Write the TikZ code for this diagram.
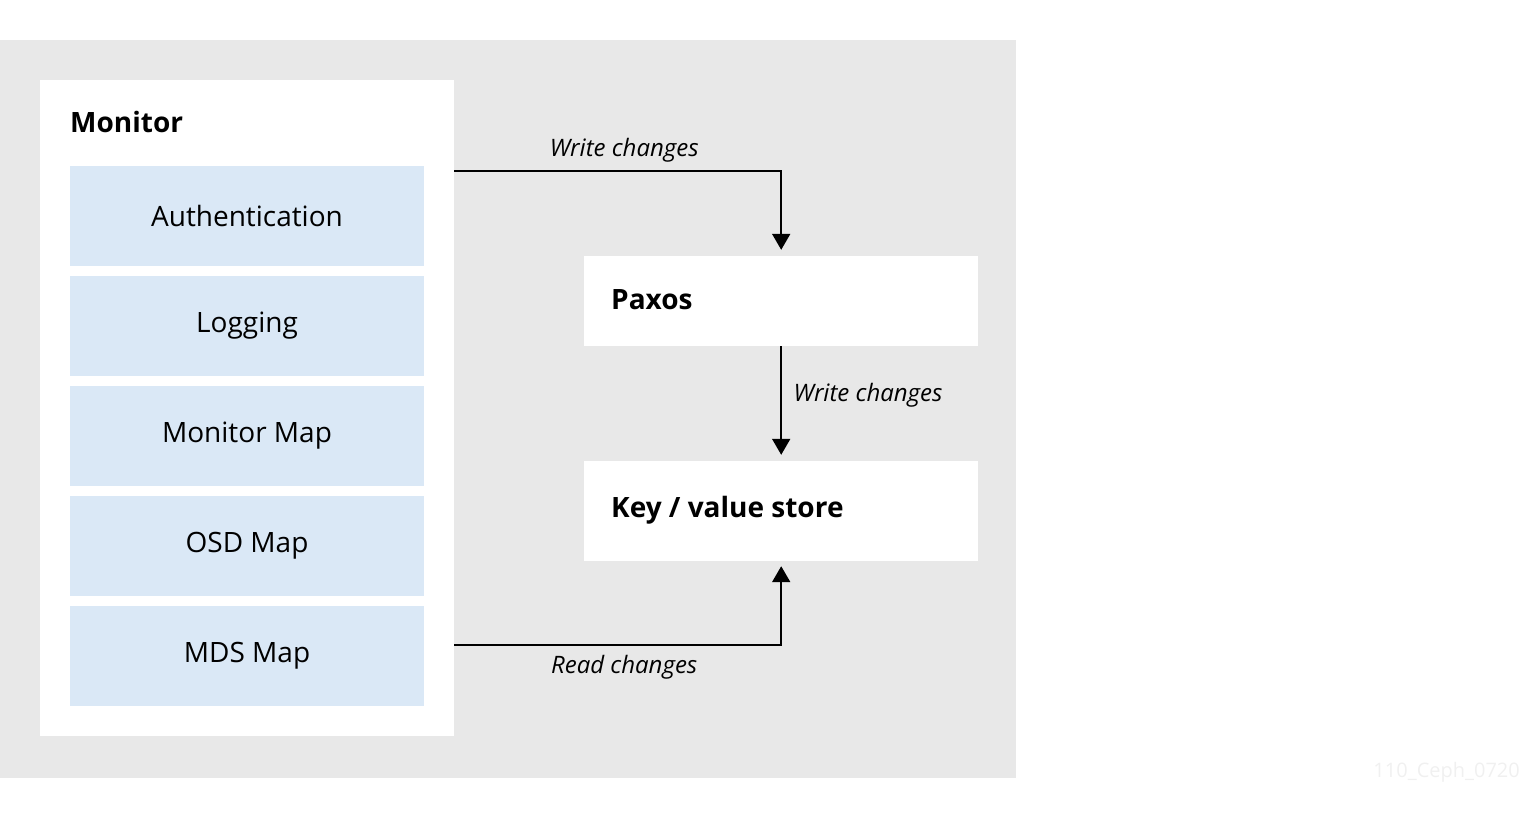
\documentclass[tikz,border=0pt]{standalone}
\usepackage{fontspec}
\setmainfont{Open Sans}
\usetikzlibrary{arrows.meta}
\definecolor{bgGray}{RGB}{232,232,232}
\definecolor{boxBlue}{RGB}{218,232,246}
\definecolor{markGray}{RGB}{240,240,240}

\tikzset{
  part/.style={fill=boxBlue,minimum width=354pt,minimum height=100pt,inner sep=0pt,
    font=\fontsize{28}{32}\selectfont},
  store/.style={fill=white,minimum width=394pt,inner sep=0pt,anchor=west},
  flow/.style={line width=2pt,-{Triangle[width=18pt,length=16pt]}},
  note/.style={font=\fontsize{24}{28}\selectfont\itshape}
}

\begin{document}
\begin{tikzpicture}[x=1pt,y=-1pt]
    \useasboundingbox (0,0) rectangle (1520,812);
    \fill[bgGray] (0,40) rectangle (1016,778);

    % Monitor and its parts
    \node[fill=white,minimum width=414pt,minimum height=656pt,inner sep=0pt] (monitor) at (247,408) {};
    \node[anchor=west,font=\fontsize{28}{32}\selectfont\bfseries,inner sep=0pt] (montitle) at (70,122) {Monitor};
    \node[part] (auth) at (247,216) {Authentication};
    \node[part] (logging) at (247,326) {Logging};
    \node[part] (monmap) at (247,436) {Monitor Map};
    \node[part] (osdmap) at (247,546) {OSD Map};
    \node[part] (mdsmap) at (247,656) {MDS Map};

    % Paxos and store
    \node[store,minimum height=90pt] (paxos) at (584,301) {};
    \node[anchor=west,font=\fontsize{28}{32}\selectfont\bfseries,inner sep=0pt] at (611,300) {Paxos};
    \node[store,minimum height=100pt] (kvstore) at (584,511) {};
    \node[anchor=west,font=\fontsize{28}{32}\selectfont\bfseries,inner sep=0pt] at (611,510) {Key / value store};

    % changes
    \coordinate (wout) at (monitor.east |- 0,171);
    \coordinate (rout) at (monitor.east |- 0,645);
    \draw[flow] (wout) -| node[note,pos=0.26,above=4pt] {Write changes} ([yshift=6pt]paxos.north);
    \draw[flow] (paxos.south) -- node[note,right=8pt,pos=0.45] {Write changes} ([yshift=6pt]kvstore.north);
    \draw[flow] (rout) -| node[note,pos=0.26,below=6pt] {Read changes} ([yshift=-5pt]kvstore.south);

    \node[anchor=east,text=markGray,font=\fontsize{20}{24}\selectfont,inner sep=0pt] (mark) at (1520,772) {110\_Ceph\_0720};
\end{tikzpicture}
\end{document}
